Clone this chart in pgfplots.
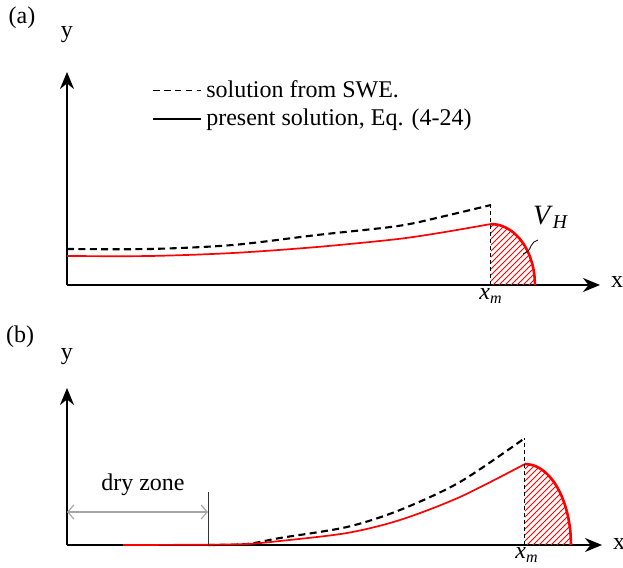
\documentclass[border=0pt]{standalone}
\usepackage{fontspec}
\setmainfont{Liberation Serif}
\usepackage{pgfplots}
\pgfplotsset{compat=1.18}
\usetikzlibrary{arrows.meta,patterns}
\begin{document}
\fontsize{12}{14}\selectfont
\begin{tikzpicture}[x=0.5pt,y=0.5pt]
\path[use as bounding box] (0,0) rectangle (623,568);
\pgfplotsset{
  schem/.style={
    scale only axis, clip=false, enlargelimits=false,
    axis lines=left, xtick=\empty, ytick=\empty,
    axis line style={line width=1pt, -{Stealth[length=8.5pt,width=7pt]}},
    xmin=0, ymin=0,
  },
  dashcurve/.style={black, line width=1.05pt, dash pattern=on 3.5pt off 2.2pt, smooth},
  redcurve/.style={red, line width=0.85pt, smooth},
  xmline/.style={black, line width=0.5pt, dash pattern=on 2pt off 1.5pt},
}
% ---------------- panel (a)
\begin{axis}[schem, at={(33.5pt,141.5pt)}, anchor=origin,
  width=266.5pt, height=106.5pt, xmax=533, ymax=213,
  legend style={at={(0.16,0.847)}, anchor=west, draw=none, fill=none,
    inner sep=0pt, row sep=0pt, font=\fontsize{12}{14}\selectfont},
  legend cell align=left,
  legend image code/.code={\draw[#1] (0pt,0pt) -- (18.5pt,0pt); \path (0pt,0pt) -- (24pt,0pt);}]
\addlegendimage{black, line width=0.8pt, dash pattern=on 3.2pt off 2.2pt}
\addlegendentry{solution from SWE.}
\addlegendimage{black, line width=0.8pt}
\addlegendentry{present solution, Eq. (4-24)}
\addplot[draw=none, pattern=north east lines, pattern color=red, forget plot]
  coordinates {(424,0) (424,61) (431.6,60.07) (439.0,57.32) (446.0,52.83) (452.3,46.73)
  (457.7,39.21) (462.1,30.5) (465.3,20.86) (467.3,10.59) (468,0)} -- cycle;
\addplot[dashcurve, forget plot] coordinates {(0,36) (83,36) (166,40) (250,50) (331,59) (378,69) (424,80)};
\addplot[redcurve, forget plot] coordinates {(0,29) (83,29) (166,32) (250,38) (331,46) (378,53) (424,61)};
\addplot[xmline, forget plot] coordinates {(424,0) (424,80)};
\addplot[red, line width=1.3pt, smooth, forget plot]
  coordinates {(424,61) (431.6,60.07) (439.0,57.32) (446.0,52.83) (452.3,46.73)
  (457.7,39.21) (462.1,30.5) (465.3,20.86) (467.3,10.59) (468,0)};
\draw[black, line width=0.4pt] (axis cs:456,31) to[out=20,in=250] (axis cs:464,39) to[out=70,in=200] (axis cs:471,45);
\end{axis}
% ---------------- panel (b)
\begin{axis}[schem, at={(33.5pt,11.5pt)}, anchor=origin,
  width=267.5pt, height=78.5pt, xmax=535, ymax=157]
\addplot[draw=none, pattern=north east lines, pattern color=red]
  coordinates {(458,0) (458,81) (466.0,79.77) (473.7,76.12) (481.0,70.15) (487.6,62.05)
  (493.2,52.07) (497.8,40.5) (501.2,27.70) (503.3,14.07) (504,0)} -- cycle;
\addplot[dashcurve] coordinates {(141,0) (180,1) (213,7) (280,18) (333,35) (393,63) (458,107)};
\addplot[redcurve] coordinates {(56,0) (141,0.3) (180,1) (213,4) (280,12) (333,25) (393,48) (458,81)};
\addplot[xmline] coordinates {(458,0) (458,107)};
\addplot[red, line width=1.3pt, smooth]
  coordinates {(458,81) (466.0,79.77) (473.7,76.12) (481.0,70.15) (487.6,62.05)
  (493.2,52.07) (497.8,40.5) (501.2,27.70) (503.3,14.07) (504,0)};
\draw[gray!70, line width=0.6pt, {Straight Barb[length=3pt,width=7pt]}-{Straight Barb[length=3pt,width=7pt]}]
  (axis cs:0,33) -- (axis cs:141,33);
\draw[black!80, line width=0.4pt] (axis cs:141,0) -- (axis cs:141,53);
\end{axis}
% ---------------- labels
\node at (22,550) {(a)};
\node at (67,533) {y};
\node at (617,286) {x};
\node at (491,272) {\textit{x}\textsubscript{\textit{m}}};
\node at (551,351) {\fontsize{14}{16}\selectfont\textit{V}\textsubscript{\textit{H}}};
\node at (20,231) {(b)};
\node at (67,211) {y};
\node at (619,24) {x};
\node at (527,13) {\textit{x}\textsubscript{\textit{m}}};
\node at (143,83) {dry zone};
\end{tikzpicture}
\end{document}
